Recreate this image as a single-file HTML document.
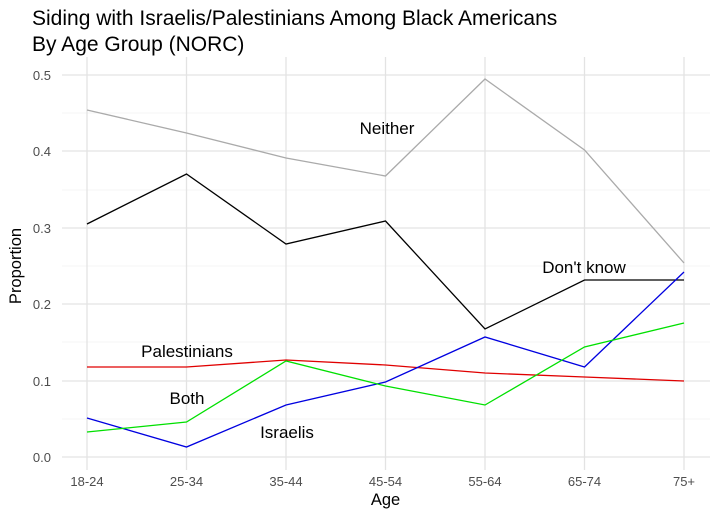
<!DOCTYPE html>
<html><head><style>body{margin:0;background:#fff}svg{display:block;font-family:"Liberation Sans",sans-serif}</style></head><body>
<svg width="722" height="518" xmlns="http://www.w3.org/2000/svg">
<rect width="722" height="518" fill="#fff"/>
<g stroke="#f0f0f0" stroke-width="0.8">
<line x1="62" x2="710" y1="419" y2="419"/><line x1="62" x2="710" y1="342" y2="342"/><line x1="62" x2="710" y1="266" y2="266"/><line x1="62" x2="710" y1="190" y2="190"/><line x1="62" x2="710" y1="113" y2="113"/>
</g>
<g stroke="#e3e3e3" stroke-width="1.3">
<line x1="62" x2="710" y1="457" y2="457"/><line x1="62" x2="710" y1="381" y2="381"/><line x1="62" x2="710" y1="304" y2="304"/><line x1="62" x2="710" y1="228" y2="228"/><line x1="62" x2="710" y1="151" y2="151"/><line x1="62" x2="710" y1="75" y2="75"/>
<line x1="87" x2="87" y1="57" y2="470"/><line x1="186.5" x2="186.5" y1="57" y2="470"/><line x1="286" x2="286" y1="57" y2="470"/><line x1="385.5" x2="385.5" y1="57" y2="470"/><line x1="485" x2="485" y1="57" y2="470"/><line x1="584.5" x2="584.5" y1="57" y2="470"/><line x1="684" x2="684" y1="57" y2="470"/>
</g>
<g fill="none" stroke-width="1.3">
<polyline stroke="#aaaaaa" points="87,110 186.5,133 286,158 385.5,176 485,79 584.5,150 684,263"/>
<polyline stroke="#000" points="87,224 186.5,174 286,244 385.5,221 485,329 584.5,280 684,280"/>
<polyline stroke="#e00000" points="87,367 186.5,367 286,360 385.5,365 485,373 584.5,377 684,381"/>
<polyline stroke="#0000e0" points="87,418 186.5,447 286,405 385.5,382 485,337 584.5,367 684,272"/>
<polyline stroke="#00e000" points="87,432 186.5,422 286,361 385.5,386 485,405 584.5,347 684,323"/>
</g>
<g font-size="17" fill="#000" text-anchor="middle">
<text x="387" y="134">Neither</text><text x="584" y="273">Don't know</text><text x="187" y="357">Palestinians</text><text x="187" y="404">Both</text><text x="287" y="438">Israelis</text>
</g>
<g font-size="13" fill="#4d4d4d" text-anchor="end">
<text x="51" y="462">0.0</text><text x="51" y="386">0.1</text><text x="51" y="309">0.2</text><text x="51" y="233">0.3</text><text x="51" y="156">0.4</text><text x="51" y="80">0.5</text>
</g>
<g font-size="13" fill="#4d4d4d" text-anchor="middle">
<text x="87" y="486">18-24</text><text x="186.5" y="486">25-34</text><text x="286" y="486">35-44</text><text x="385.5" y="486">45-54</text><text x="485" y="486">55-64</text><text x="584.5" y="486">65-74</text><text x="684" y="486">75+</text>
</g>
<text x="385.5" y="505" font-size="16.5" text-anchor="middle">Age</text>
<text transform="translate(21,266) rotate(-90)" font-size="16.5" text-anchor="middle">Proportion</text>
<text x="32" y="25" font-size="21">Siding with Israelis/Palestinians Among Black Americans</text>
<text x="32" y="51" font-size="21">By Age Group (NORC)</text>
</svg>
</body></html>
